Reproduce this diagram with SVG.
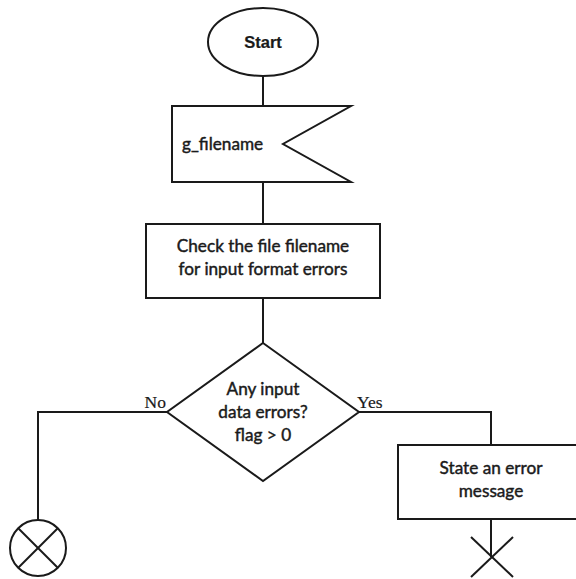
<svg xmlns="http://www.w3.org/2000/svg" width="576" height="579" viewBox="0 0 576 579">
  <style>
    .shape { fill: #fff; stroke: #1a1a1a; stroke-width: 2; }
    .line { fill: none; stroke: #1a1a1a; stroke-width: 2; }
    text { font-family: "Lato", "Noto Sans", sans-serif; font-size: 17.2px; fill: #1a1a1a; stroke: #1a1a1a; stroke-width: 0.45; text-anchor: middle; }
    .bold { font-weight: bold; font-family: "Liberation Sans", Arial, sans-serif; font-size: 16.5px; stroke-width: 0.2; }
    .lbl { font-family: "Liberation Serif", serif; font-size: 17.5px; stroke-width: 0.2; }
  </style>

  <!-- flow lines -->
  <g id="connectors">
    <line class="line" x1="263" y1="74" x2="263" y2="106"/>
    <line class="line" x1="263" y1="182" x2="263" y2="224"/>
    <line class="line" x1="263" y1="298" x2="263" y2="343"/>
    <polyline class="line" points="167,412 38,412 38,520"/>
    <polyline class="line" points="359,412 491,412 491,445"/>
    <line class="line" x1="491" y1="519" x2="491" y2="557"/>
    <text class="lbl" x="166" y="408" style="text-anchor:end">No</text>
    <text class="lbl" x="357" y="408" style="text-anchor:start">Yes</text>
  </g>

  <g id="start">
    <ellipse class="shape" cx="263" cy="42" rx="55" ry="34"/>
    <text class="bold" x="263" y="48">Start</text>
  </g>

  <g id="input-filename">
    <polygon class="shape" points="172,106 351,106 283,144 351,182 172,182"/>
    <text x="182" y="150" style="text-anchor:start">g_filename</text>
  </g>

  <g id="check-file">
    <rect class="shape" x="146" y="224" width="234" height="74"/>
    <text x="263" y="252">Check the file filename</text>
    <text x="263" y="275">for input format errors</text>
  </g>

  <g id="decision">
    <polygon class="shape" points="263,343 359,412 263,481 167,412"/>
    <text x="263" y="395">Any input</text>
    <text x="263" y="418">data errors?</text>
    <text x="263" y="441">flag &gt; 0</text>
  </g>

  <g id="error-message">
    <rect class="shape" x="398" y="445" width="186" height="74"/>
    <text x="491" y="474">State an error</text>
    <text x="491" y="497">message</text>
  </g>

  <g id="connector-end">
    <circle class="shape" cx="38" cy="548" r="28"/>
    <line class="line" x1="18" y1="528" x2="58" y2="568"/>
    <line class="line" x1="58" y1="528" x2="18" y2="568"/>
  </g>

  <g id="stop">
    <line class="line" x1="471" y1="537" x2="513" y2="577"/>
    <line class="line" x1="513" y1="537" x2="471" y2="577"/>
  </g>
</svg>
